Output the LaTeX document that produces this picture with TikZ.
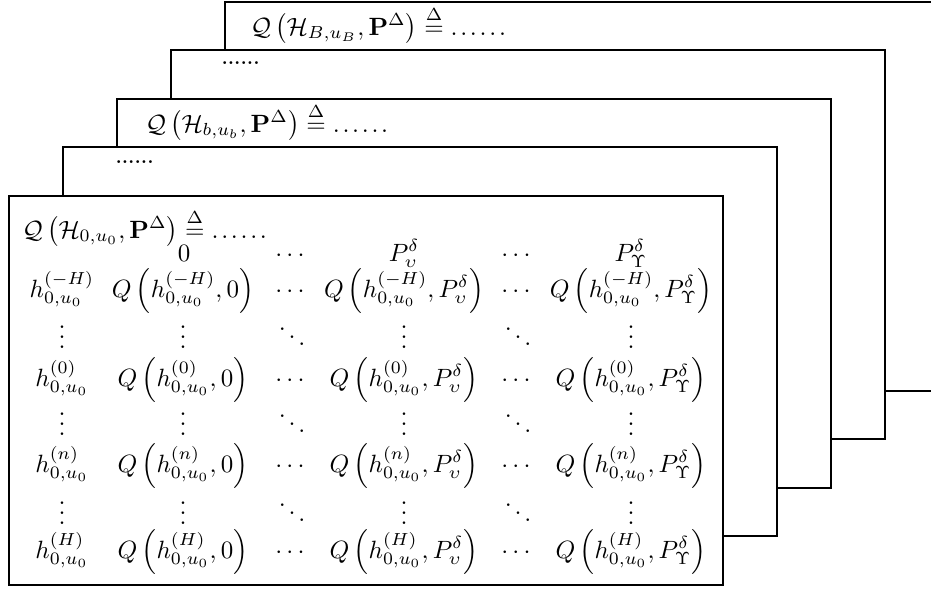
\documentclass[tikz,border=0pt]{standalone}
\usepackage{amsmath,amssymb}
\newcommand{\myH}[1]{h^{(#1)}_{0,u_0}}
\newcommand{\myQ}[2]{Q\left(\myH{#1},#2\right)}
\newcommand{\sixdots}{.\kern1.1pt.\kern1.1pt.\kern1.1pt.\kern1.1pt.\kern1.1pt.}
\newcommand{\myTitle}[1]{$\mathcal{Q}\left(\mathcal{H}_{#1},\mathbf{P}^{\Delta}\right)\overset{\Delta}{=}\sixdots$}
\begin{document}
\begin{tikzpicture}[x=0.4pt,y=-0.4pt,
  layer/.style={draw=black, line width=0.8pt, fill=white},
  cell/.style={anchor=base, inner sep=0pt},
  ttl/.style={anchor=base west, inner sep=0pt},
  tinydots/.style={anchor=base west, inner sep=0pt, font=\scriptsize\bfseries}]
\path[use as bounding box, clip] (0,0) rectangle (931,588);
% stacked layers, back to front
\draw[layer] (225,1.5) rectangle (939,390.6);
\draw[layer] (171,50.1) rectangle (885,439.2);
\draw[layer] (117,98.7) rectangle (831,487.8);
\draw[layer] (63,147.3) rectangle (777,536.4);
\draw[layer] (9,196) rectangle (723,585);
% layer texts
\node[ttl] (tB) at (250,35) {\myTitle{B,u_B}};
\node[tinydots] (d3) at (221,64) {......};
\node[ttl] (tb) at (145,132) {\myTitle{b,u_b}};
\node[tinydots] (d1) at (115,163) {......};
\node[ttl] (t0) at (22,238) {\myTitle{0,u_0}};
% header row
\node[cell] (h1) at (184,261) {$0$};
\node[cell] (h2) at (292,261) {$\cdots$};
\node[cell] (h3) at (404,261) {$P^{\delta}_{\upsilon}$};
\node[cell] (h4) at (518,261) {$\cdots$};
\node[cell] (h5) at (631,261) {$P^{\delta}_{\Upsilon}$};
% row -H
\node[cell] (a0) at (62,297) {$\myH{-H}$};
\node[cell] (a1) at (183,297) {$\myQ{-H}{0}$};
\node[cell] (a2) at (292,297) {$\cdots$};
\node[cell] (a3) at (404,297) {$\myQ{-H}{P^{\delta}_{\upsilon}}$};
\node[cell] (a4) at (518,297) {$\cdots$};
\node[cell] (a5) at (631,297) {$\myQ{-H}{P^{\delta}_{\Upsilon}}$};
% dots row
\node[cell] (b0) at (62,348) {$\vdots$};
\node[cell] (b1) at (183,348) {$\vdots$};
\node[cell] (b2) at (292,348) {$\ddots$};
\node[cell] (b3) at (404,348) {$\vdots$};
\node[cell] (b4) at (518,348) {$\ddots$};
\node[cell] (b5) at (631,348) {$\vdots$};
% row 0
\node[cell] (c0) at (62,386) {$\myH{0}$};
\node[cell] (c1) at (183,386) {$\myQ{0}{0}$};
\node[cell] (c2) at (292,386) {$\cdots$};
\node[cell] (c3) at (404,386) {$\myQ{0}{P^{\delta}_{\upsilon}}$};
\node[cell] (c4) at (518,386) {$\cdots$};
\node[cell] (c5) at (631,386) {$\myQ{0}{P^{\delta}_{\Upsilon}}$};
% dots row
\node[cell] (d0) at (62,435) {$\vdots$};
\node[cell] (e1) at (183,435) {$\vdots$};
\node[cell] (e2) at (292,435) {$\ddots$};
\node[cell] (e3) at (404,435) {$\vdots$};
\node[cell] (e4) at (518,435) {$\ddots$};
\node[cell] (e5) at (631,435) {$\vdots$};
% row n
\node[cell] (f0) at (62,472) {$\myH{n}$};
\node[cell] (f1) at (183,472) {$\myQ{n}{0}$};
\node[cell] (f2) at (292,472) {$\cdots$};
\node[cell] (f3) at (404,472) {$\myQ{n}{P^{\delta}_{\upsilon}}$};
\node[cell] (f4) at (518,472) {$\cdots$};
\node[cell] (f5) at (631,472) {$\myQ{n}{P^{\delta}_{\Upsilon}}$};
% dots row
\node[cell] (g0) at (62,524) {$\vdots$};
\node[cell] (g1) at (183,524) {$\vdots$};
\node[cell] (g2) at (292,524) {$\ddots$};
\node[cell] (g3) at (404,524) {$\vdots$};
\node[cell] (g4) at (518,524) {$\ddots$};
\node[cell] (g5) at (631,524) {$\vdots$};
% row H
\node[cell] (k0) at (62,558) {$\myH{H}$};
\node[cell] (k1) at (183,558) {$\myQ{H}{0}$};
\node[cell] (k2) at (292,558) {$\cdots$};
\node[cell] (k3) at (404,558) {$\myQ{H}{P^{\delta}_{\upsilon}}$};
\node[cell] (k4) at (518,558) {$\cdots$};
\node[cell] (k5) at (631,558) {$\myQ{H}{P^{\delta}_{\Upsilon}}$};
\end{tikzpicture}
\end{document}
